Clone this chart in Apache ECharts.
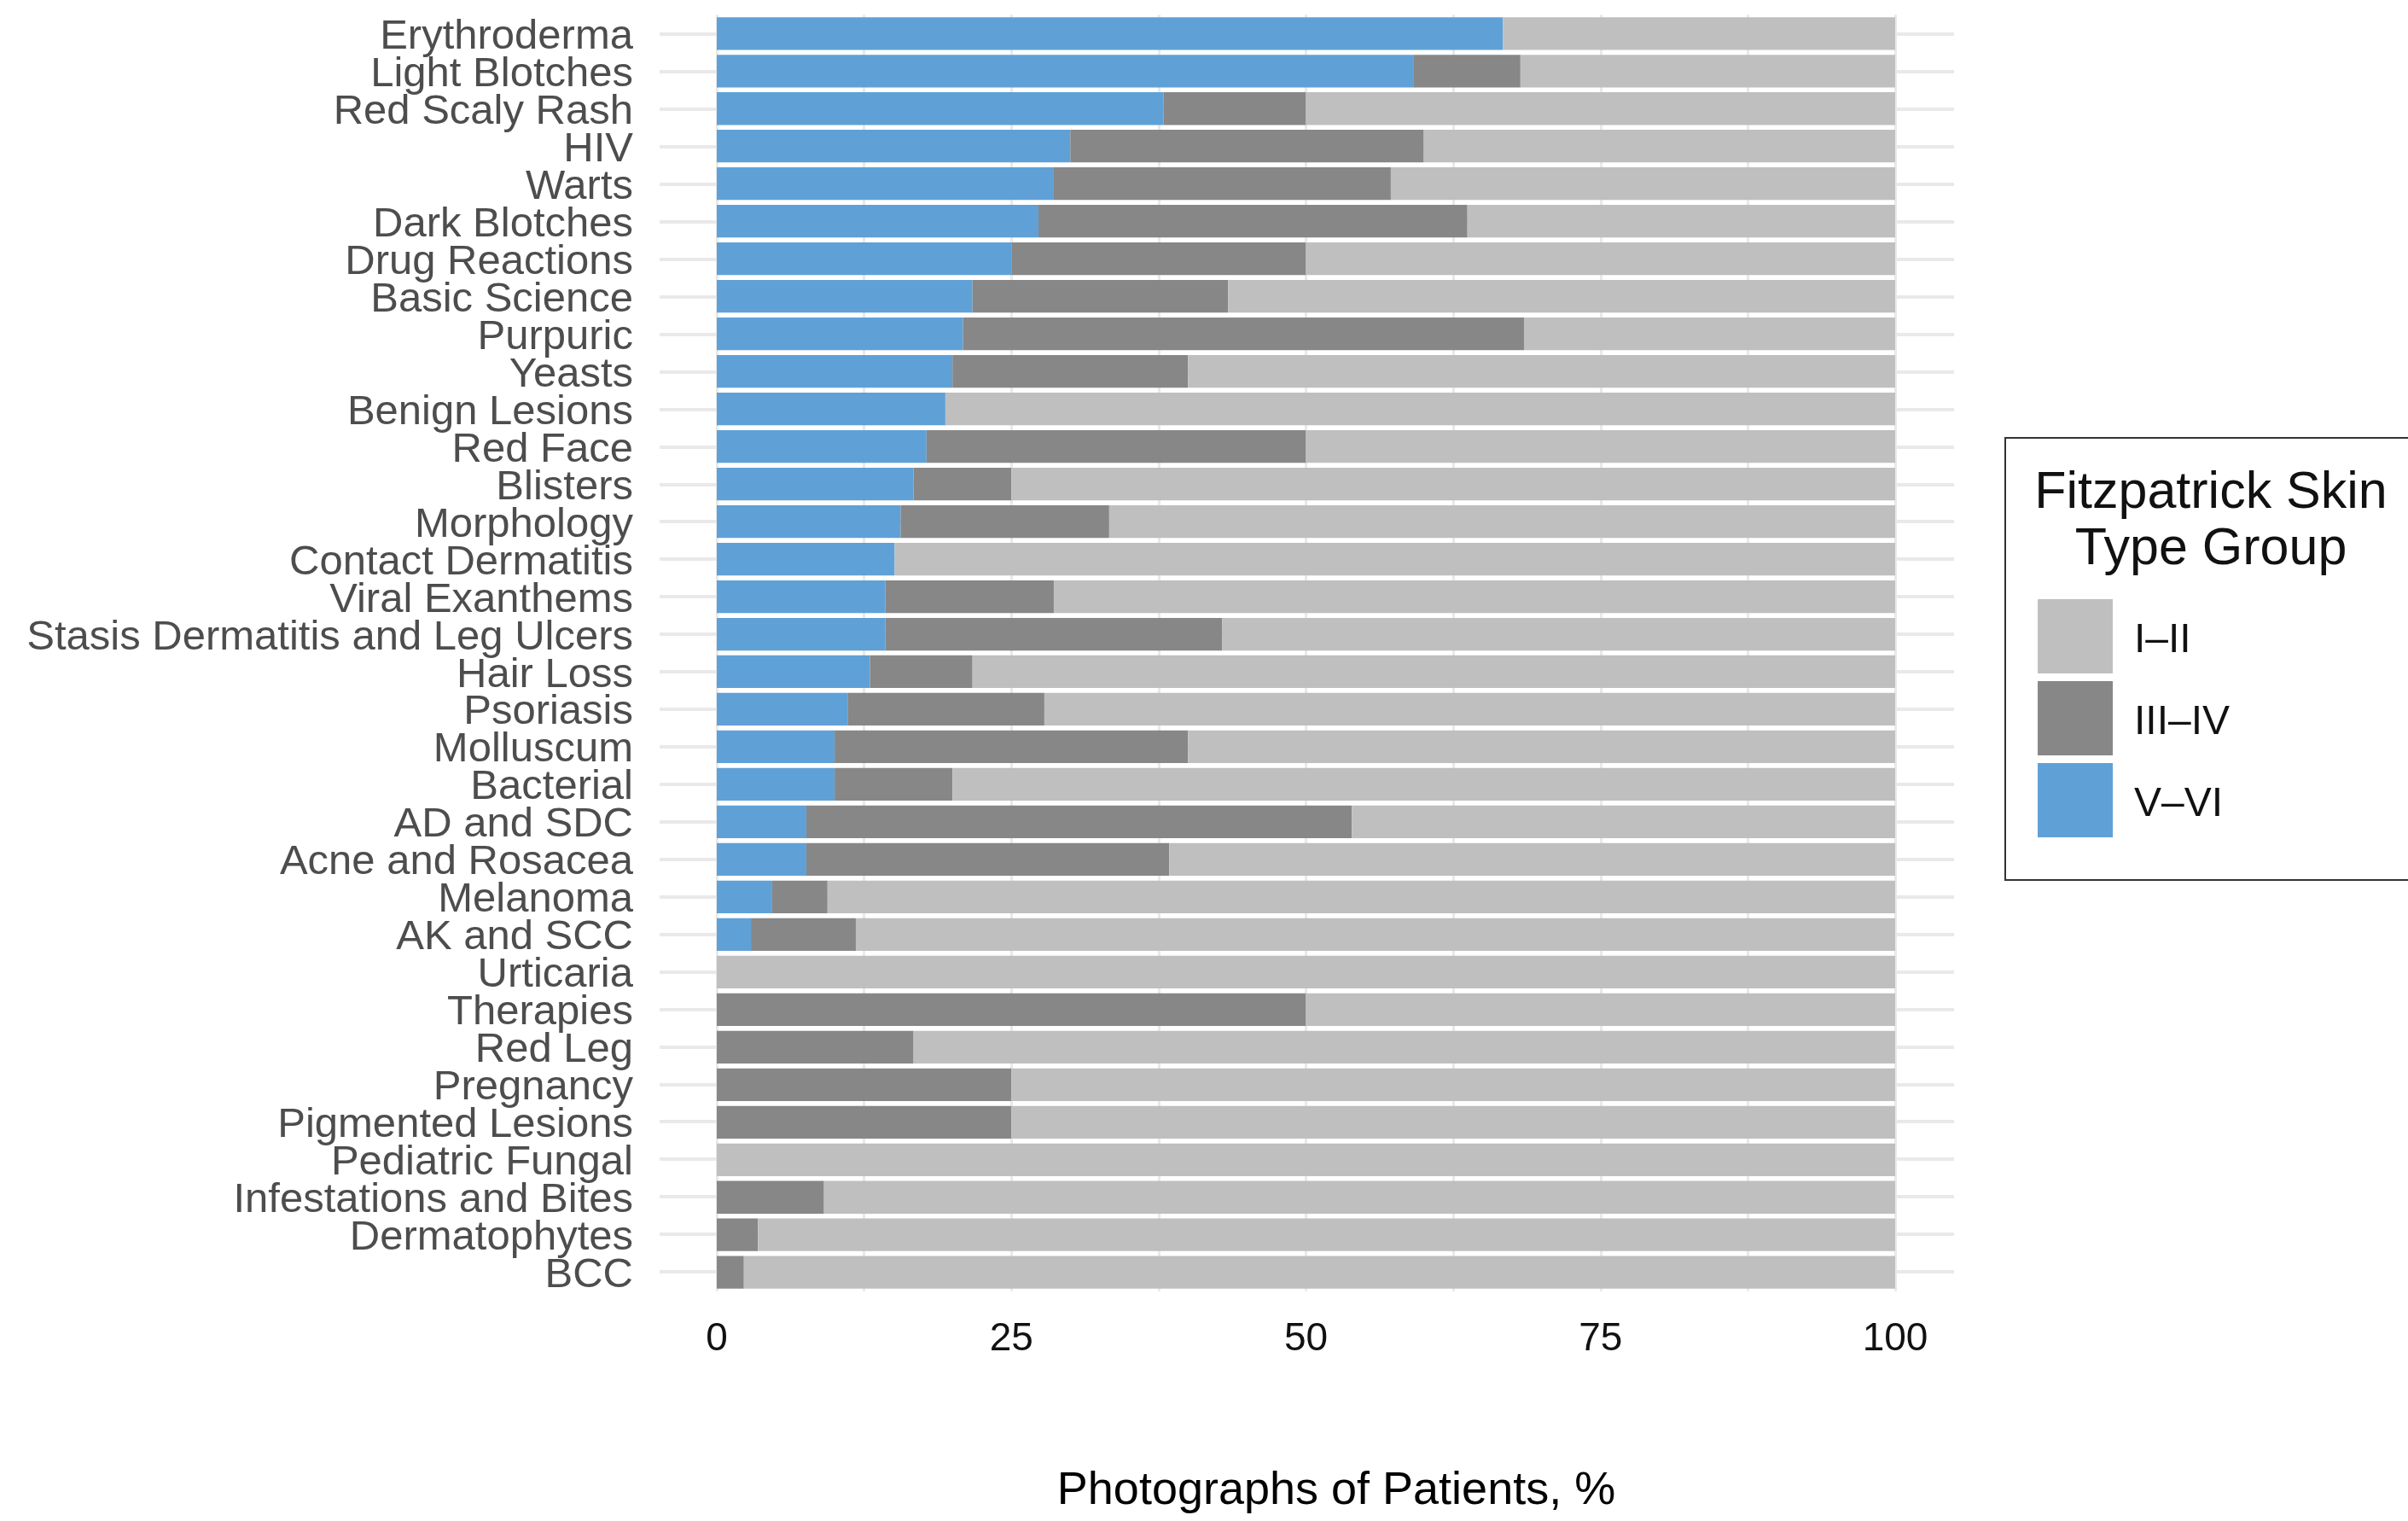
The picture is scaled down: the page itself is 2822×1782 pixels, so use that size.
<!DOCTYPE html>
<html><head><meta charset="utf-8">
<script src="https://cdn.jsdelivr.net/npm/echarts@6/dist/echarts.min.js"></script>
<style>html,body{margin:0;padding:0;background:#fff}#c{width:2822px;height:1782px}</style>
</head><body><div id="c"></div>
<script>
const categories = ['Erythroderma','Light Blotches','Red Scaly Rash','HIV','Warts','Dark Blotches','Drug Reactions','Basic Science','Purpuric','Yeasts','Benign Lesions','Red Face','Blisters','Morphology','Contact Dermatitis','Viral Exanthems','Stasis Dermatitis and Leg Ulcers','Hair Loss','Psoriasis','Molluscum','Bacterial','AD and SDC','Acne and Rosacea','Melanoma','AK and SCC','Urticaria','Therapies','Red Leg','Pregnancy','Pigmented Lesions','Pediatric Fungal','Infestations and Bites','Dermatophytes','BCC'];
const typeVtoVI   = [66.7,59.1,37.9,30.0,28.6,27.3,25.0,21.7,20.9,20.0,19.4,17.8,16.7,15.6,15.1,14.3,14.3,13.0,11.1,10.0,10.0,7.6,7.6,4.7,2.9,0,0,0,0,0,0,0,0,0];
const typeIIItoIV = [0,9.1,12.1,30.0,28.6,36.4,25.0,21.7,47.6,20.0,0,32.2,8.3,17.7,0,14.3,28.6,8.7,16.7,30.0,10.0,46.3,30.8,4.7,8.9,0,50.0,16.7,25.0,25.0,0,9.1,3.5,2.3];
const typeItoII   = [33.3,31.8,50.0,40.0,42.8,36.3,50.0,56.6,31.5,60.0,80.6,50.0,75.0,66.7,84.9,71.4,57.1,78.3,72.2,60.0,80.0,46.1,61.6,90.6,88.2,100,50.0,83.3,75.0,75.0,100,90.9,96.5,97.7];
const xTickLabels = [0,25,50,75,100];
const groupNames = ['I–II','III–IV','V–VI'];
const legendTitle = 'Fitzpatrick Skin\nType Group';
const axisTitle = 'Photographs of Patients, %';

const colors = {'I–II':'#bfbfc0','III–IV':'#878788','V–VI':'#5fa1d7'};
const chart = echarts.init(document.getElementById('c'), null, {renderer:'canvas'});
const font = '"Liberation Sans", Arial, Helvetica, sans-serif';

function bar(name, data){
  return {name, type:'bar', stack:'all', data, xAxisIndex:0, yAxisIndex:0,
    barCategoryGap:'13%', itemStyle:{color:colors[name]}, emphasis:{disabled:true}, z:3};
}

chart.setOption({
  animation:false,
  backgroundColor:'#ffffff',
  grid:[
    {left:840, width:1381, top:17.3, bottom:269.3, containLabel:false},
    {left:773, right:532, top:40, bottom:292, containLabel:false}
  ],
  xAxis:[
    {type:'value', gridIndex:0, min:0, max:100, interval:12.5,
     axisLine:{show:false}, axisTick:{show:false},
     splitLine:{show:true, lineStyle:{color:'#e9e9e9', width:3}},
     axisLabel:{margin:34, fontSize:46, color:'#111', fontFamily:font,
       formatter:v => xTickLabels.includes(v) ? String(v) : ''}},
    {type:'value', gridIndex:1, min:0, max:1, show:false}
  ],
  yAxis:[
    {type:'category', gridIndex:0, data:categories, inverse:true,
     axisLine:{show:false}, axisTick:{show:false}, splitLine:{show:false},
     axisLabel:{margin:98, fontSize:49, color:'#4d4d4d', fontFamily:font, interval:0,
       verticalAlign:'top', lineHeight:8}},
    {type:'category', gridIndex:1, data:categories, inverse:true, boundaryGap:false,
     axisLine:{show:false}, axisTick:{show:false}, axisLabel:{show:false},
     splitLine:{show:true, interval:0, lineStyle:{color:'#e9e9e9', width:4}}}
  ],
  legend:{
    orient:'vertical', left:2388, top:702, padding:0,
    data:groupNames, icon:'rect', itemWidth:88, itemHeight:87, itemGap:9,
    selectedMode:false,
    formatter: name => '{s|}\n{a|' + name + '}',
    textStyle:{fontSize:48, color:'#111', fontFamily:font, padding:[0,0,0,20],
      rich:{
        s:{fontSize:10, lineHeight:10},
        a:{fontSize:48, lineHeight:48, color:'#111', fontFamily:font}
      }}
  },
  graphic:[
    {type:'rect', shape:{x:2350, y:513, width:520, height:518},
     style:{fill:'none', stroke:'#333', lineWidth:2}, z:10},
    {type:'text', x:2591, y:611, z:10,
     style:{text:legendTitle, fontSize:61, lineHeight:66, fontFamily:font, fill:'#111',
       align:'center', verticalAlign:'middle'}},
    {type:'text', x:1566, y:1747, z:10,
     style:{text:axisTitle, fontSize:54, fontFamily:font, fill:'#000',
       align:'center', verticalAlign:'middle'}}
  ],
  series:[
    bar('V–VI', typeVtoVI),
    bar('III–IV', typeIIItoIV),
    bar('I–II', typeItoII)
  ]
});
</script>
</body></html>
